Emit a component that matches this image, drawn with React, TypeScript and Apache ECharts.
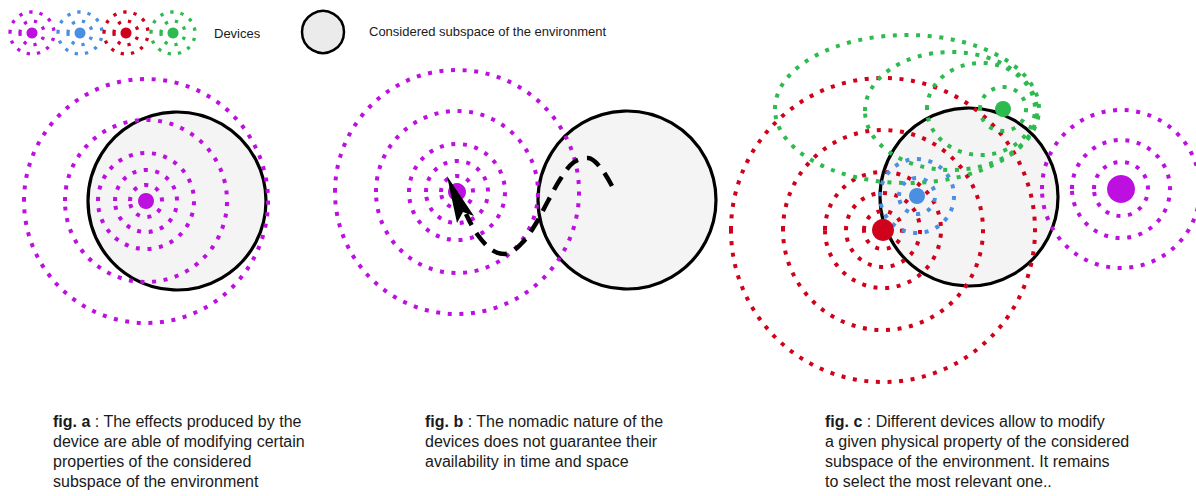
import React, { useEffect, useRef } from "react";
import * as echarts from "echarts";

const W = 1196;
const H = 496;

const COLOR_PURPLE = "#bd10e0";
const COLOR_BLUE = "#4a90e2";
const COLOR_RED = "#d0021b";
const COLOR_GREEN = "#2dba4e";

// Considered subspaces: [cx, cy, r]
const subspaces = [
  [177, 201, 89],
  [627, 200, 89],
  [969, 197, 89],
];
const legendSubspace = [[323, 32, 21]];

// Effect rings: [cx, cy, rx, ry]
const purpleRings = [
  [146, 201, 16, 16], [146, 201, 31, 31], [146, 201, 48, 48], [146, 201, 81, 81], [146, 201, 122, 122],
  [457, 192, 16, 16], [457, 192, 31, 31], [457, 192, 48, 48], [457, 192, 81, 81], [457, 192, 122, 122],
  [1121, 189, 27, 27], [1121, 189, 49, 49], [1121, 189, 79, 79],
];
const blueRings = [
  [917, 196, 18, 18], [917, 196, 37, 37],
];
const redRings = [
  [883, 230, 19, 19], [883, 230, 37, 37], [883, 230, 58, 58], [883, 230, 100, 100], [883, 230, 152, 152],
];
const greenRings = [
  [1003, 109, 23, 22], [981, 109, 54, 46], [951, 111, 86, 59], [907, 109, 132, 74],
];

// Legend rings
const legendPurpleRings = [[32, 33, 12, 12], [32, 33, 22, 21]];
const legendBlueRings = [[80, 33, 12, 12], [80, 33, 22, 21]];
const legendRedRings = [[126, 33, 12, 12], [126, 33, 22, 21]];
const legendGreenRings = [[173, 33, 12, 12], [173, 33, 22, 21]];

// Device dots: [cx, cy, r]
const purpleDots = [[32, 33, 5.5], [146, 201, 8], [457, 192, 9], [1121, 189, 14]];
const blueDots = [[80, 33, 5.5], [917, 196, 8]];
const redDots = [[126, 33, 5.5], [883, 230, 11]];
const greenDots = [[173, 33, 5.5], [1003, 109, 8]];

// Nomadic trajectory (fig. b), from tail to arrow
const trajectory = [
  [612, 186], [600, 167], [588, 158], [574, 162], [561, 178], [548, 201],
  [535, 225], [521, 244], [505, 254], [492, 250], [477, 234], [466, 214],
];
// Arrow head: tip, left base, notch, right base
const arrowHead = [[447, 176, 457, 223, 463, 212, 474, 216]];

const FONT = "'Liberation Sans', Arial, Helvetica, sans-serif";

const captions = [
  { x: 53, label: "fig. a", text: " : The effects produced by the\ndevice are able of modifying certain\nproperties of the considered\nsubspace of the environment" },
  { x: 425, label: "fig. b", text: " : The nomadic nature of the\ndevices does not guarantee their\navailability in time and space" },
  { x: 825, label: "fig. c", text: " : Different devices allow to modify\na given physical property of the considered\nsubspace of the environment. It remains\nto select the most relevant one.." },
];

function ringSeries(name: string, data: number[][], color: string, width: number, dash: number[]) {
  return {
    type: "custom",
    name,
    coordinateSystem: "cartesian2d",
    data,
    silent: true,
    clip: false,
    z: 3,
    renderItem: (params: any, api: any) => {
      const c = api.coord([api.value(0), api.value(1)]);
      const s = api.size([api.value(2), api.value(3)]);
      return {
        type: "ellipse",
        shape: { cx: c[0], cy: c[1], rx: s[0], ry: s[1] },
        style: { fill: "none", stroke: color, lineWidth: width, lineDash: dash, lineCap: "butt" },
      };
    },
  };
}

function dotSeries(name: string, data: number[][], color: string) {
  return {
    type: "custom",
    name,
    coordinateSystem: "cartesian2d",
    data,
    silent: true,
    clip: false,
    z: 5,
    renderItem: (params: any, api: any) => {
      const c = api.coord([api.value(0), api.value(1)]);
      const s = api.size([api.value(2), api.value(2)]);
      return {
        type: "circle",
        shape: { cx: c[0], cy: c[1], r: s[0] },
        style: { fill: color },
      };
    },
  };
}

function subspaceSeries(name: string, data: number[][], fill: string, width: number) {
  return {
    type: "custom",
    name,
    coordinateSystem: "cartesian2d",
    data,
    silent: true,
    clip: false,
    z: 1,
    renderItem: (params: any, api: any) => {
      const c = api.coord([api.value(0), api.value(1)]);
      const s = api.size([api.value(2), api.value(2)]);
      return {
        type: "circle",
        shape: { cx: c[0], cy: c[1], r: s[0] },
        style: { fill, stroke: "#000", lineWidth: width },
      };
    },
  };
}

export default function App() {
  const ref = useRef<HTMLDivElement>(null);
  useEffect(() => {
    if (!ref.current) return;
    const chart = echarts.init(ref.current, undefined, { renderer: "svg" });
    const ringDash = [4, 7.6];
    const option: any = {
      animation: false,
      backgroundColor: "#ffffff",
      grid: { left: 0, right: 0, top: 0, bottom: 0 },
      xAxis: { type: "value", min: 0, max: W, show: false },
      yAxis: { type: "value", min: 0, max: H, inverse: true, show: false },
      series: [
        subspaceSeries("subspaces", subspaces, "#f4f4f4", 3.2),
        subspaceSeries("legendSubspace", legendSubspace, "#ebebeb", 2.5),
        ringSeries("purpleRings", purpleRings, COLOR_PURPLE, 4, ringDash),
        ringSeries("redRings", redRings, COLOR_RED, 4, ringDash),
        ringSeries("greenRings", greenRings, COLOR_GREEN, 4, ringDash),
        ringSeries("blueRings", blueRings, COLOR_BLUE, 4, ringDash),
        ringSeries("legendPurple", legendPurpleRings, COLOR_PURPLE, 3.3, [3.3, 7]),
        ringSeries("legendBlue", legendBlueRings, COLOR_BLUE, 3.3, [3.3, 7]),
        ringSeries("legendRed", legendRedRings, COLOR_RED, 3.3, [3.3, 7]),
        ringSeries("legendGreen", legendGreenRings, COLOR_GREEN, 3.3, [3.3, 7]),
        dotSeries("purpleDots", purpleDots, COLOR_PURPLE),
        dotSeries("blueDots", blueDots, COLOR_BLUE),
        dotSeries("redDots", redDots, COLOR_RED),
        dotSeries("greenDots", greenDots, COLOR_GREEN),
        {
          type: "line",
          name: "trajectory",
          data: trajectory,
          smooth: 0.35,
          symbol: "none",
          silent: true,
          z: 6,
          lineStyle: { color: "#000", width: 4.5, type: [15, 9], cap: "butt" },
        },
        {
          type: "custom",
          name: "arrow",
          coordinateSystem: "cartesian2d",
          data: arrowHead,
          silent: true,
          clip: false,
          z: 7,
          renderItem: (params: any, api: any) => {
            const pts: number[][] = [];
            for (let i = 0; i < 4; i++) {
              pts.push(api.coord([api.value(i * 2), api.value(i * 2 + 1)]));
            }
            return { type: "polygon", shape: { points: pts }, style: { fill: "#000" } };
          },
        },
      ],
      graphic: [
        {
          type: "text",
          x: 214,
          y: 33,
          style: { text: "Devices", fontSize: 13, fontFamily: FONT, fill: "#1a1a1a", verticalAlign: "middle" },
        },
        {
          type: "text",
          x: 369,
          y: 31,
          style: {
            text: "Considered subspace of the environment",
            fontSize: 13,
            fontFamily: FONT,
            fill: "#1a1a1a",
            verticalAlign: "middle",
          },
        },
        ...captions.map((c) => ({
          type: "text",
          x: c.x,
          y: 411,
          style: {
            text: "{b|" + c.label + "}" + c.text,
            fontSize: 16,
            lineHeight: 20,
            fontFamily: FONT,
            fill: "#1a1a1a",
            verticalAlign: "top",
            rich: {
              b: { fontWeight: "bold", fontSize: 16, lineHeight: 20, fontFamily: FONT, fill: "#1a1a1a" },
            },
          },
        })),
      ],
    };
    chart.setOption(option);
    return () => chart.dispose();
  }, []);
  return (
    <div
      ref={ref}
      style={{ position: "fixed", left: 0, top: 0, width: W, height: H, background: "#fff" }}
    />
  );
}
